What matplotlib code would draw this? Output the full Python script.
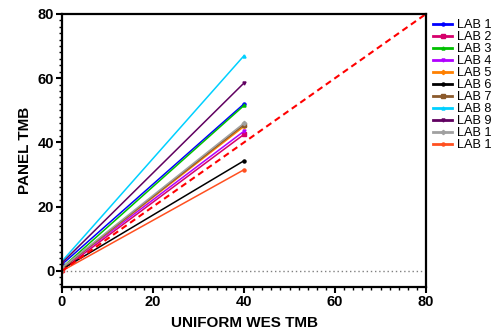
import matplotlib
matplotlib.use("Agg")
import matplotlib.pyplot as plt
from matplotlib.ticker import MultipleLocator

plt.rcParams['font.family'] = ['Liberation Sans', 'DejaVu Sans']

labels = ["LAB 1", "LAB 2", "LAB 3", "LAB 4", "LAB 5", "LAB 6",
          "LAB 7", "LAB 8", "LAB 9", "LAB 1", "LAB 1"]
x_vals = [0, 40]
intercepts = [2.0, 0.3, 1.0, 0.8, 0.8, 0.5, 0.8, 3.0, 2.5, 1.0, 0.0]
ends = [52.0, 42.5, 51.5, 43.5, 45.0, 34.3, 45.5, 67.0, 58.5, 46.0, 31.5]
colors = ["#0000ff", "#d6006b", "#00c000", "#b000ff", "#ff8000", "#000000",
          "#8b5a2b", "#00d0ff", "#600060", "#a0a0a0", "#ff5020"]
markers = ["o", "s", "^", "v", "D", "o", "s", "^", "v", "D", "o"]

fig = plt.figure(figsize=(4.92, 3.31), dpi=100)
ax = fig.add_axes([0.126, 0.133, 0.740, 0.825])

for lab, b, e, c, m in zip(labels, intercepts, ends, colors, markers):
    ax.plot(x_vals, [b, e], color=c, lw=1.1, marker=m, markersize=2.2, label=lab)

ax.plot([0, 80], [0, 80], color="red", ls=(0, (3, 2)), lw=1.5)
ax.axhline(0, color="gray", ls=(0, (1, 2)), lw=1)

ax.set_xlim(0, 80)
ax.set_ylim(-5, 80)
ax.xaxis.set_major_locator(MultipleLocator(20))
ax.xaxis.set_minor_locator(MultipleLocator(2))
ax.yaxis.set_major_locator(MultipleLocator(20))
ax.yaxis.set_minor_locator(MultipleLocator(2))
for s in ax.spines.values():
    s.set_linewidth(1.6)
ax.tick_params(which="major", direction="out", length=4, width=1.5, labelsize=10.5, pad=1.5)
ax.tick_params(which="minor", direction="out", length=2.5, width=1)
for t in ax.get_xticklabels() + ax.get_yticklabels():
    t.set_fontweight("bold")

ax.set_xlabel("UNIFORM WES TMB", fontsize=11, fontweight="bold", labelpad=5)
ax.set_ylabel("PANEL TMB", fontsize=11, fontweight="bold", labelpad=4)

leg = ax.legend(loc="upper left", bbox_to_anchor=(1.005, 1.0), frameon=False,
                fontsize=9.2, handlelength=1.5, handletextpad=0.35, labelspacing=0.0,
                borderaxespad=0.2, borderpad=0.2)
for h in leg.legend_handles:
    h.set_linewidth(2)

fig.savefig("out.png", dpi=100)
